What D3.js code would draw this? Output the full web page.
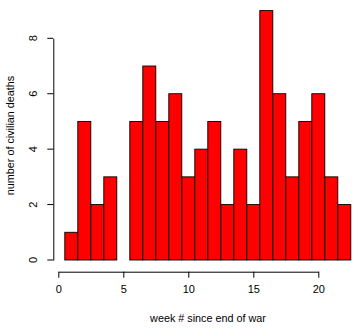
<!DOCTYPE html>
<html><head><meta charset="utf-8">
<script src="https://cdn.jsdelivr.net/npm/d3@7"></script>
<style>body{margin:0;background:#fff}svg{display:block}text{font-family:"Liberation Sans",Arial,sans-serif;fill:#000}</style>
</head><body><svg id="c" width="358" height="329"></svg>
<script>
const weeks = [1,2,3,4,5,6,7,8,9,10,11,12,13,14,15,16,17,18,19,20,21,22];
const deaths = [1,5,2,3,0,5,7,5,6,3,4,5,2,4,2,9,6,3,5,6,3,2];
const xTicks = [0,5,10,15,20];
const yTicks = [0,2,4,6,8];

const svg = d3.select("#c");
const x = d3.scaleLinear().domain([0,20]).range([58.3,318.3]);
const y = d3.scaleLinear().domain([0,8]).range([260,38.3]);

svg.append("g").selectAll("rect").data(weeks).join("rect")
  .attr("x", d => x(d-0.5)).attr("width", d => x(d+0.5)-x(d-0.5))
  .attr("y", (d,i) => y(deaths[i])).attr("height", (d,i) => y(0)-y(deaths[i]))
  .attr("fill", "#ff0000").attr("stroke", "#000").attr("stroke-width", 0.9);

const xa = svg.append("g").attr("transform","translate(0,271.7)")
  .call(d3.axisBottom(x).tickValues(xTicks).tickSize(6).tickPadding(8).tickSizeOuter(0));
const ya = svg.append("g").attr("transform","translate(53.3,0)")
  .call(d3.axisLeft(y).tickValues(yTicks).tickSize(6).tickPadding(0).tickSizeOuter(0));
[xa,ya].forEach(a=>{a.select(".domain").attr("stroke","#000");a.selectAll("line").attr("stroke","#000");
  a.selectAll("text").style("font-size","11px").attr("font-family",null);});
xa.selectAll("text").attr("y",14);
ya.selectAll("text").attr("transform",d=>`translate(-20,${y(d)}) rotate(-90)`).attr("x",0).attr("dy","0.35em").attr("y",0).style("text-anchor","middle");
ya.selectAll(".tick").attr("transform",null);
ya.selectAll(".tick line").attr("transform",d=>`translate(0,${y(d)})`);

svg.append("text").attr("x",208).attr("y",321.5).attr("text-anchor","middle").style("font-size","10.8px").text("week # since end of war");
svg.append("text").attr("transform","translate(14,135.5) rotate(-90)").attr("text-anchor","middle").style("font-size","10.8px").text("number of civilian deaths");
</script></body></html>
